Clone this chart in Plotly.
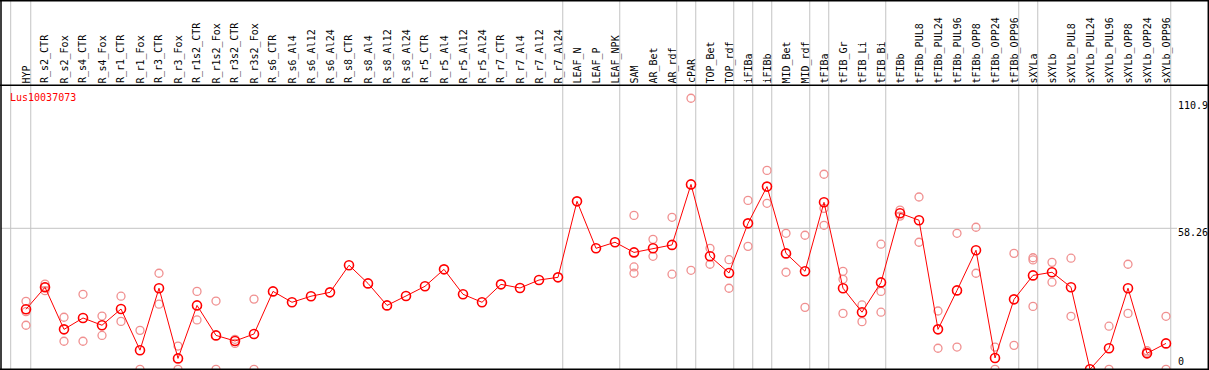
import plotly.graph_objects as go

categories = ["HYP", "R_s2_CTR", "R_s2_Fox", "R_s4_CTR", "R_s4_Fox", "R_r1_CTR", "R_r1_Fox",
              "R_r3_CTR", "R_r3_Fox", "R_r1s2_CTR", "R_r1s2_Fox", "R_r3s2_CTR", "R_r3s2_Fox",
              "R_s6_CTR", "R_s6_Al4", "R_s6_Al12", "R_s6_Al24", "R_s8_CTR", "R_s8_Al4", "R_s8_Al12",
              "R_s8_Al24", "R_r5_CTR", "R_r5_Al4", "R_r5_Al12", "R_r5_Al24", "R_r7_CTR", "R_r7_Al4",
              "R_r7_Al12", "R_r7_Al24", "LEAF_N", "LEAF_P", "LEAF_NPK", "SAM", "AR_Bet", "AR_rdf",
              "cPAR", "TOP_Bet", "TOP_rdf", "iFIBa", "iFIBb", "MID_Bet", "MID_rdf", "tFIBa",
              "tFIB_Gr", "tFIB_Li", "tFIB_Bi", "tFIBb", "tFIBb_PUL8", "tFIBb_PUL24", "tFIBb_PUL96",
              "tFIBb_OPP8", "tFIBb_OPP24", "tFIBb_OPP96", "sXYLa", "sXYLb", "sXYLb_PUL8",
              "sXYLb_PUL24", "sXYLb_PUL96", "sXYLb_OPP8", "sXYLb_OPP24", "sXYLb_OPP96"]

mean_values = [24.8, 33.9, 16.5, 21.2, 18.2, 24.9, 7.9, 33.5, 4.5, 26.4, 14.0, 11.7, 14.6,
               32.2, 27.7, 30.2, 31.8, 43.0, 35.5, 26.4, 30.3, 34.3, 41.3, 31.0, 27.7, 35.1, 33.6,
               36.9, 38.0, 69.4, 50.0, 52.5, 48.3, 50.0, 51.4, 76.4, 46.7, 39.8, 60.3, 75.5,
               47.9, 40.5, 69.0, 33.5, 23.6, 35.9, 64.5, 61.6, 16.5, 32.6, 49.2, 4.7, 28.9,
               38.8, 40.1, 33.9, 0.0, 8.7, 33.5, 6.6, 10.7]

replicates = [
    [28.1, 23.8, 18.2], [35.2, 32.5, 34.0], [21.5, 11.6], [31.0, 11.6], [22.0, 14.0],
    [30.2, 19.8], [16.1, 0.0], [39.7, 26.9], [9.6, 0.0], [32.2, 20.4], [28.2, 0.0],
    [12.4, 10.7], [29.0, 0.0],
    [], [], [], [], [], [], [], [], [], [], [], [], [], [], [], [],
    [], [], [],
    [63.6, 42.3, 39.7], [53.7, 46.7], [62.8, 39.3], [112.0, 40.9], [50.0, 43.4],
    [45.3, 33.5], [69.8, 50.8], [82.2, 68.6], [56.2, 40.1], [55.4, 25.6],
    [80.6, 66.5, 59.5], [40.5, 37.2, 23.1], [26.6, 19.7], [51.7, 32.2, 23.6],
    [65.8, 63.3], [71.2, 52.5], [24.1, 8.7], [56.2, 9.2], [58.7, 39.7], [9.2, 0.0],
    [47.9, 9.9], [46.1, 45.2, 26.0], [44.2, 36.0], [45.9, 21.9], [], [17.8, 0.0],
    [43.4, 23.1], [7.7, 7.1], [21.9, 0.0]]

group_ends = [-1, 0, 28, 31, 34, 35, 37, 38, 39, 41, 42, 45, 52, 53, 60]
y_tick_values = [110.9, 58.26, 0]
y_tick_labels = ["110.9", "58.26", "0"]
gene_id = "Lus10037073"

W, H = 1209, 370
# pixel geometry: x_px = 26 + 19*i ; y_px = 369.3 - 2.42*v
x0_px, dx_px = 26.0, 19.0
y0_px, dy_px = 369.3, 2.42
xr = [-x0_px / dx_px, (W - x0_px) / dx_px]
yr = [(y0_px - H) / dy_px, y0_px / dy_px]

def px_to_x(p):
    return (p - x0_px) / dx_px

def py_to_y(p):
    return (y0_px - p) / dy_px

idx = list(range(len(categories)))
rep_x, rep_y = [], []
for i, reps in enumerate(replicates):
    for v in reps:
        rep_x.append(i)
        rep_y.append(v)

fig = go.Figure()
fig.add_trace(go.Scatter(
    x=rep_x, y=rep_y, mode="markers",
    marker=dict(symbol="circle-open", size=8, color="#f09090", line=dict(width=1.3)),
    hoverinfo="skip", showlegend=False))
fig.add_trace(go.Scatter(
    x=idx, y=mean_values, mode="lines+markers",
    line=dict(color="#ff0000", width=1),
    marker=dict(symbol="circle-open", size=9, color="#ff0000", line=dict(width=1.6)),
    text=categories, showlegend=False))

shapes = []
grid = "#c3c3c3"
for e in group_ends:
    xv = e + 0.25 if e >= 0 else px_to_x(10.7)
    shapes.append(dict(type="line", xref="x", yref="paper", x0=xv, x1=xv, y0=0, y1=1,
                       line=dict(color=grid, width=1), layer="below"))
shapes.append(dict(type="line", xref="x", yref="y", x0=px_to_x(1), x1=px_to_x(1177),
                   y0=58.26, y1=58.26, line=dict(color=grid, width=1), layer="below"))
# frame
blk = dict(color="#000000", width=1.5)
shapes += [
    dict(type="line", xref="paper", yref="paper", x0=0, x1=1, y0=1 - 0.7 / H, y1=1 - 0.7 / H, line=blk),
    dict(type="line", xref="paper", yref="paper", x0=0, x1=1, y0=1 - 85.3 / H, y1=1 - 85.3 / H, line=blk),
    dict(type="line", xref="paper", yref="paper", x0=0, x1=1, y0=1 - 369.3 / H, y1=1 - 369.3 / H, line=blk),
    dict(type="line", xref="paper", yref="paper", x0=1 / W, x1=1 / W, y0=0, y1=1, line=blk),
    dict(type="line", xref="paper", yref="paper", x0=1208.3 / W, x1=1208.3 / W, y0=0, y1=1, line=blk),
]

annotations = []
font_lbl = dict(family="DejaVu Sans Mono", size=10, color="#000000")
for i, c in enumerate(categories):
    annotations.append(dict(x=i, y=py_to_y(84.5), xref="x", yref="y", text=c, textangle=-90,
                            showarrow=False, xanchor="center", yanchor="bottom", font=font_lbl,
                            borderpad=0))
for v, t in zip(y_tick_values, y_tick_labels):
    if v == 0:
        annotations.append(dict(x=px_to_x(1177), y=v, xref="x", yref="y", text=t, showarrow=False,
                                xanchor="left", yanchor="bottom", yshift=1, font=font_lbl, borderpad=0))
    else:
        annotations.append(dict(x=px_to_x(1177), y=v, xref="x", yref="y", text=t, showarrow=False,
                                xanchor="left", yanchor="top", yshift=2, font=font_lbl, borderpad=0))
annotations.append(dict(x=px_to_x(8.5), y=py_to_y(97), xref="x", yref="y", text=gene_id,
                        showarrow=False, xanchor="left", yanchor="middle",
                        font=dict(family="DejaVu Sans Mono", size=10, color="#ff0000"), borderpad=0))

fig.update_layout(
    width=W, height=H, margin=dict(l=0, r=0, t=0, b=0, pad=0),
    paper_bgcolor="#ffffff", plot_bgcolor="#ffffff",
    xaxis=dict(range=xr, visible=False, fixedrange=True),
    yaxis=dict(range=yr, visible=False, fixedrange=True),
    shapes=shapes, annotations=annotations, showlegend=False,
)

fig.write_html("out.html", config={"displayModeBar": False},
               post_script="document.body.style.margin='0px';document.body.style.overflow='hidden';")
